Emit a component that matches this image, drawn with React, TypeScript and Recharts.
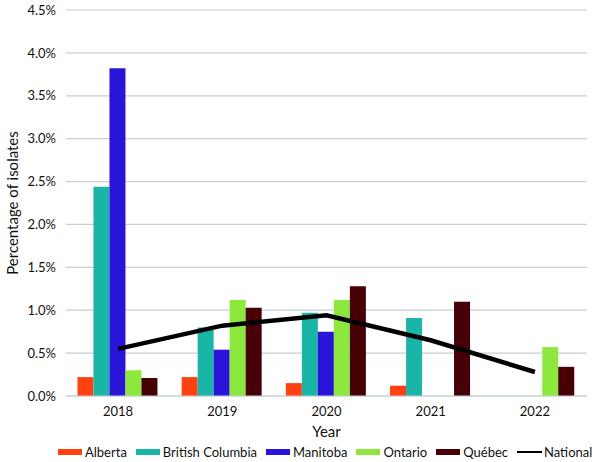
import React from "react";
import {
  ComposedChart,
  Bar,
  Line,
  XAxis,
  YAxis,
  CartesianGrid,
  Legend,
} from "recharts";

const years = ["2018", "2019", "2020", "2021", "2022"];
const alberta = [0.22, 0.22, 0.15, 0.12, null];
const britishColumbia = [2.44, 0.8, 0.97, 0.91, null];
const manitoba = [3.82, 0.54, 0.75, null, null];
const ontario = [0.3, 1.12, 1.12, null, 0.57];
const quebec = [0.21, 1.03, 1.28, 1.1, 0.34];
const national = [0.55, 0.82, 0.94, 0.65, 0.28];
const yTicks = [0, 0.5, 1, 1.5, 2, 2.5, 3, 3.5, 4, 4.5];

const series = [
  { key: "alberta", name: "Alberta", color: "#FF4010" },
  { key: "bc", name: "British Columbia", color: "#1AB5A8" },
  { key: "manitoba", name: "Manitoba", color: "#2A14D8" },
  { key: "ontario", name: "Ontario", color: "#8CE83C" },
  { key: "quebec", name: "Québec", color: "#460006" },
];

const data = years.map((year, i) => ({
  year,
  alberta: alberta[i],
  bc: britishColumbia[i],
  manitoba: manitoba[i],
  ontario: ontario[i],
  quebec: quebec[i],
  national: national[i],
}));

const font = "Lato, 'Noto Sans', sans-serif";

function LegendRow() {
  return (
    <div
      style={{
        display: "flex",
        justifyContent: "flex-start",
        alignItems: "center",
        gap: 9,
        fontFamily: font,
        fontSize: 13,
        color: "#111",
        whiteSpace: "nowrap",
        width: 600,
        paddingLeft: 58,
        paddingTop: 4,
        boxSizing: "border-box",
      }}
    >
      {series.map((s) => (
        <span key={s.key} style={{ display: "flex", alignItems: "center" }}>
          <span style={{ width: 24, height: 6, background: s.color, marginRight: 3 }} />
          {s.name}
        </span>
      ))}
      <span style={{ display: "flex", alignItems: "center" }}>
        <span style={{ width: 25, height: 2.5, background: "#000", marginRight: 2 }} />
        National
      </span>
    </div>
  );
}

export default function App() {
  return (
    <div style={{ position: "absolute", left: 0, top: 0, background: "#fff" }}>
      <ComposedChart
        width={600}
        height={462}
        data={data}
        margin={{ top: 10, right: 13, bottom: 0, left: 0 }}
        barCategoryGap="11%"
        barGap={0}
      >
        <CartesianGrid vertical={false} stroke="#C4D0D2" strokeWidth={1.2} />
        <XAxis
          dataKey="year"
          axisLine={{ stroke: "#C4D0D2" }}
          tickLine={false}
          tick={{ fontSize: 13, fill: "#111", fontFamily: font }}
          tickMargin={5}
          height={44}
          label={{
            value: "Year",
            position: "insideBottom",
            offset: 3,
            style: { fontSize: 15, fill: "#111", fontFamily: font },
          }}
        />
        <YAxis
          width={66}
          domain={[0, 4.5]}
          ticks={yTicks}
          axisLine={false}
          tickLine={false}
          tickFormatter={(v: number) => v.toFixed(1) + "%"}
          tick={{ fontSize: 13, fill: "#111", fontFamily: font }}
          tickMargin={4}
          label={{
            value: "Percentage of isolates",
            angle: -90,
            position: "insideLeft",
            offset: 13,
            style: { fontSize: 15, fill: "#111", fontFamily: font, textAnchor: "middle" },
          }}
        />
        <Legend
          verticalAlign="bottom"
          height={22}
          wrapperStyle={{ left: 0, width: 600 }}
          content={() => <LegendRow />}
        />
        {series.map((s) => (
          <Bar key={s.key} dataKey={s.key} name={s.name} fill={s.color} isAnimationActive={false} />
        ))}
        <Line
          dataKey="national"
          name="National"
          stroke="#000"
          strokeWidth={4.5}
          dot={false}
          type="linear"
          isAnimationActive={false}
        />
      </ComposedChart>
    </div>
  );
}
